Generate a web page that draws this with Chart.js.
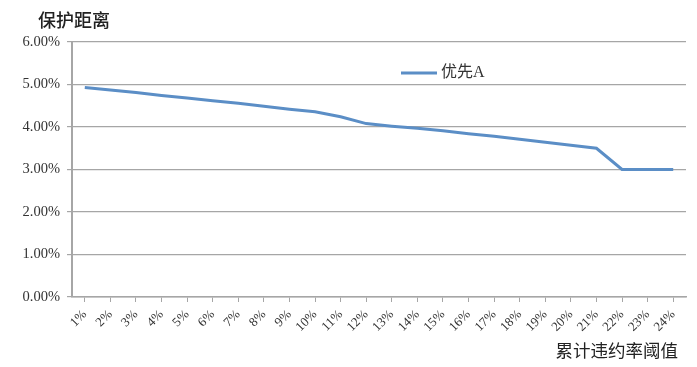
<!DOCTYPE html>
<html>
<head>
<meta charset="utf-8">
<script src="https://cdn.jsdelivr.net/npm/chart.js@4"></script>
<style>
  html, body { margin: 0; padding: 0; background: #fff; }
  #wrap { width: 697px; height: 367px; }
</style>
</head>
<body>
<div id="wrap"><canvas id="chartDistance"></canvas></div>
<script>
// 累计违约率阈值
const thresholds = ['1%', '2%', '3%', '4%', '5%', '6%', '7%', '8%', '9%', '10%', '11%', '12%',
    '13%', '14%', '15%', '16%', '17%', '18%', '19%', '20%', '21%', '22%', '23%', '24%'];

// 优先A 保护距离 (%)
const priorityA = [4.93, 4.87, 4.81, 4.74, 4.68, 4.62, 4.56, 4.49, 4.42, 4.36, 4.24, 4.08,
    4.02, 3.97, 3.91, 3.84, 3.78, 3.71, 3.64, 3.57, 3.50, 3.00, 3.00, 3.00];

const yTicks = [0, 1, 2, 3, 4, 5, 6];

const colors = {
    line: '#5b8ec6',
    grid: '#a6a6a6',
    text: '#333333'
};

const serif = '"Liberation Serif", "Noto Sans CJK SC", serif';

// titles and legend drawn by hand, the chart has no room for them
const annotations = {
    id: 'annotations',
    afterDraw(chart) {
        const ctx = chart.ctx;
        ctx.save();
        ctx.fillStyle = '#222';
        ctx.textBaseline = 'middle';

        ctx.font = '500 18px "Noto Sans CJK SC", sans-serif';
        ctx.textAlign = 'left';
        ctx.fillText('保护距离', 38, 20);

        ctx.font = '17.5px "Noto Sans CJK SC", sans-serif';
        ctx.textAlign = 'right';
        ctx.fillText('累计违约率阈值', 678, 350);

        ctx.strokeStyle = colors.line;
        ctx.lineWidth = 3;
        ctx.beginPath();
        ctx.moveTo(401, 73);
        ctx.lineTo(437, 73);
        ctx.stroke();

        ctx.font = '16px ' + serif;
        ctx.textAlign = 'left';
        ctx.fillStyle = '#333';
        ctx.fillText('优先A', 441, 73);
        ctx.restore();
    }
};

const ctx = document.getElementById('chartDistance').getContext('2d');
const chartDistance = new Chart(ctx, {
    type: 'line',
    data: {
        labels: thresholds,
        datasets: [{
            label: '优先A',
            data: priorityA,
            borderColor: colors.line,
            backgroundColor: colors.line,
            borderWidth: 3,
            pointRadius: 0,
            tension: 0,
            fill: false
        }]
    },
    options: {
        responsive: true,
        maintainAspectRatio: false,
        animation: false,
        layout: {
            padding: { top: 42, right: 11, left: 0, bottom: 0 }
        },
        plugins: {
            legend: { display: false },
            tooltip: { enabled: false }
        },
        scales: {
            x: {
                type: 'category',
                offset: true,
                afterFit(scale) { scale.height = 70; },
                grid: {
                    drawOnChartArea: false,
                    drawTicks: true,
                    tickLength: 5,
                    color: colors.grid
                },
                border: { color: colors.grid, width: 1.5 },
                ticks: {
                    autoSkip: false,
                    minRotation: 45,
                    maxRotation: 45,
                    padding: 5,
                    color: colors.text,
                    font: { family: serif, size: 13 }
                }
            },
            y: {
                min: 0,
                max: 6,
                afterFit(scale) { scale.width = 72; },
                afterBuildTicks(scale) {
                    scale.ticks = yTicks.map(v => ({ value: v }));
                },
                grid: {
                    color: colors.grid,
                    tickLength: 5,
                    lineWidth: 1.2
                },
                border: { color: colors.grid, width: 2 },
                ticks: {
                    padding: 7,
                    color: colors.text,
                    font: { family: serif, size: 14.5 },
                    callback: value => value.toFixed(2) + '%'
                }
            }
        }
    },
    plugins: [annotations]
});
</script>
</body>
</html>
